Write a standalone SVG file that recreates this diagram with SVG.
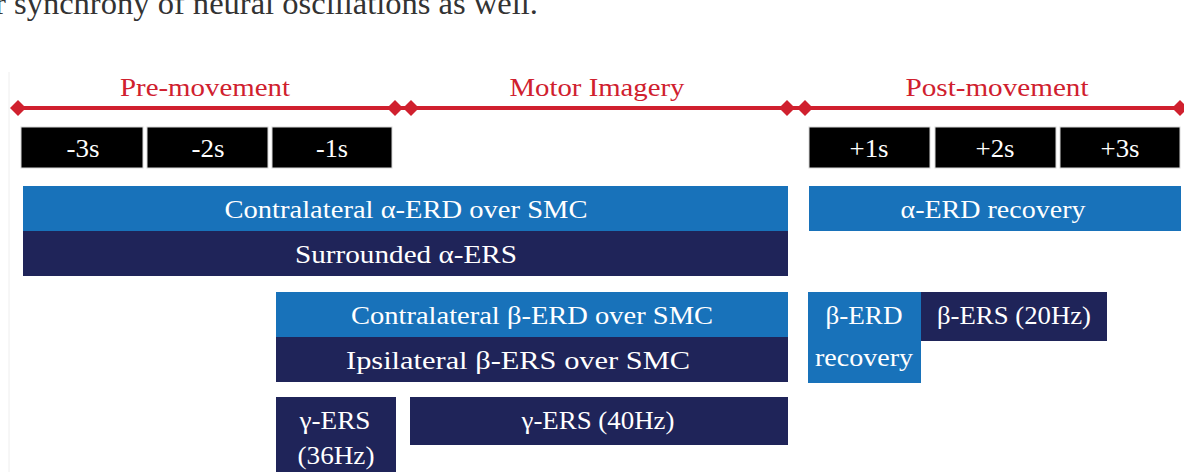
<svg xmlns="http://www.w3.org/2000/svg" width="1184" height="472" viewBox="0 0 1184 472">
<style>
text{font-family:"Liberation Serif","Times New Roman",serif;text-anchor:middle}
.lbl{font-size:26px;fill:#ffffff}
.sec{font-size:26px;fill:#d0202e}
.tick{font-size:25px;fill:#ffffff}
.blk{fill:#000000;stroke:#d8d8d8;stroke-width:1}
.lb{fill:#1872ba}
.db{fill:#1f2459}
.dia{fill:#d0202e}
</style>
<rect x="0" y="0" width="1184" height="472" fill="#ffffff"/>
<text x="-5" y="14" font-size="32" fill="#333333" style="text-anchor:start" textLength="543" lengthAdjust="spacingAndGlyphs">r synchrony of neural oscillations as well.</text>
<line x1="9" y1="72" x2="9" y2="472" stroke="#eeeeee" stroke-width="1"/>
<g id="timeline">
<line x1="18" y1="108" x2="1184" y2="108" stroke="#d0202e" stroke-width="4"/>
<polygon class="dia" points="10,108 18,100 26,108 18,116"/>
<polygon class="dia" points="387,108 395,100 403,108 395,116"/>
<polygon class="dia" points="403,108 411,100 419,108 411,116"/>
<polygon class="dia" points="779,108 787,100 795,108 787,116"/>
<polygon class="dia" points="797,108 805,100 813,108 805,116"/>
<polygon class="dia" points="1172,108 1180,100 1188,108 1180,116"/>
</g>
<g id="sections">
<text class="sec" x="205" y="96" textLength="170" lengthAdjust="spacingAndGlyphs">Pre-movement</text>
<text class="sec" x="597" y="96" textLength="175" lengthAdjust="spacingAndGlyphs">Motor Imagery</text>
<text class="sec" x="997" y="96" textLength="183" lengthAdjust="spacingAndGlyphs">Post-movement</text>
</g>
<g id="ticks">
<rect class="blk" x="21" y="127" width="122" height="41"/><text class="tick" x="83" y="157" textLength="33" lengthAdjust="spacingAndGlyphs">-3s</text>
<rect class="blk" x="147" y="127" width="121" height="41"/><text class="tick" x="208" y="157" textLength="33" lengthAdjust="spacingAndGlyphs">-2s</text>
<rect class="blk" x="272" y="127" width="120" height="41"/><text class="tick" x="332" y="157" textLength="32" lengthAdjust="spacingAndGlyphs">-1s</text>
<rect class="blk" x="809" y="127" width="121" height="41"/><text class="tick" x="869" y="157" textLength="39" lengthAdjust="spacingAndGlyphs">+1s</text>
<rect class="blk" x="935" y="127" width="121" height="41"/><text class="tick" x="995" y="157" textLength="39" lengthAdjust="spacingAndGlyphs">+2s</text>
<rect class="blk" x="1060" y="127" width="120" height="41"/><text class="tick" x="1120" y="157" textLength="39" lengthAdjust="spacingAndGlyphs">+3s</text>
</g>
<g id="alpha-erd">
<rect class="lb" x="23" y="186" width="765" height="45"/>
<text class="lbl" x="406" y="218" textLength="363" lengthAdjust="spacingAndGlyphs">Contralateral α-ERD over SMC</text>
</g>
<g id="alpha-ers">
<rect class="db" x="23" y="231" width="765" height="45"/>
<text class="lbl" x="406" y="263" textLength="222" lengthAdjust="spacingAndGlyphs">Surrounded α-ERS</text>
</g>
<g id="alpha-recovery">
<rect class="lb" x="809" y="186" width="372" height="45"/>
<text class="lbl" x="993" y="218" textLength="185" lengthAdjust="spacingAndGlyphs">α-ERD recovery</text>
</g>
<g id="beta-erd">
<rect class="lb" x="276" y="292" width="512" height="45"/>
<text class="lbl" x="532" y="324" textLength="362" lengthAdjust="spacingAndGlyphs">Contralateral β-ERD over SMC</text>
</g>
<g id="beta-ers">
<rect class="db" x="276" y="337" width="512" height="45"/>
<text class="lbl" x="518" y="369" textLength="344" lengthAdjust="spacingAndGlyphs">Ipsilateral β-ERS over SMC</text>
</g>
<g id="beta-recovery">
<rect class="lb" x="808" y="292" width="113" height="91"/>
<text class="lbl" x="864" y="324" textLength="77" lengthAdjust="spacingAndGlyphs">β-ERD</text>
<text class="lbl" x="864" y="366" textLength="98" lengthAdjust="spacingAndGlyphs">recovery</text>
</g>
<g id="beta-ers-20">
<rect class="db" x="921" y="292" width="186" height="49"/>
<text class="lbl" x="1014" y="324" textLength="154" lengthAdjust="spacingAndGlyphs">β-ERS (20Hz)</text>
</g>
<g id="gamma-36">
<rect class="db" x="276" y="397" width="120" height="80"/>
<text class="lbl" x="335" y="429" textLength="71" lengthAdjust="spacingAndGlyphs">γ-ERS</text>
<text class="lbl" x="336" y="464" textLength="77" lengthAdjust="spacingAndGlyphs">(36Hz)</text>
</g>
<g id="gamma-40">
<rect class="db" x="410" y="397" width="378" height="48"/>
<text class="lbl" x="598" y="429" textLength="153" lengthAdjust="spacingAndGlyphs">γ-ERS (40Hz)</text>
</g>
<g id="connectors"></g>
</svg>
